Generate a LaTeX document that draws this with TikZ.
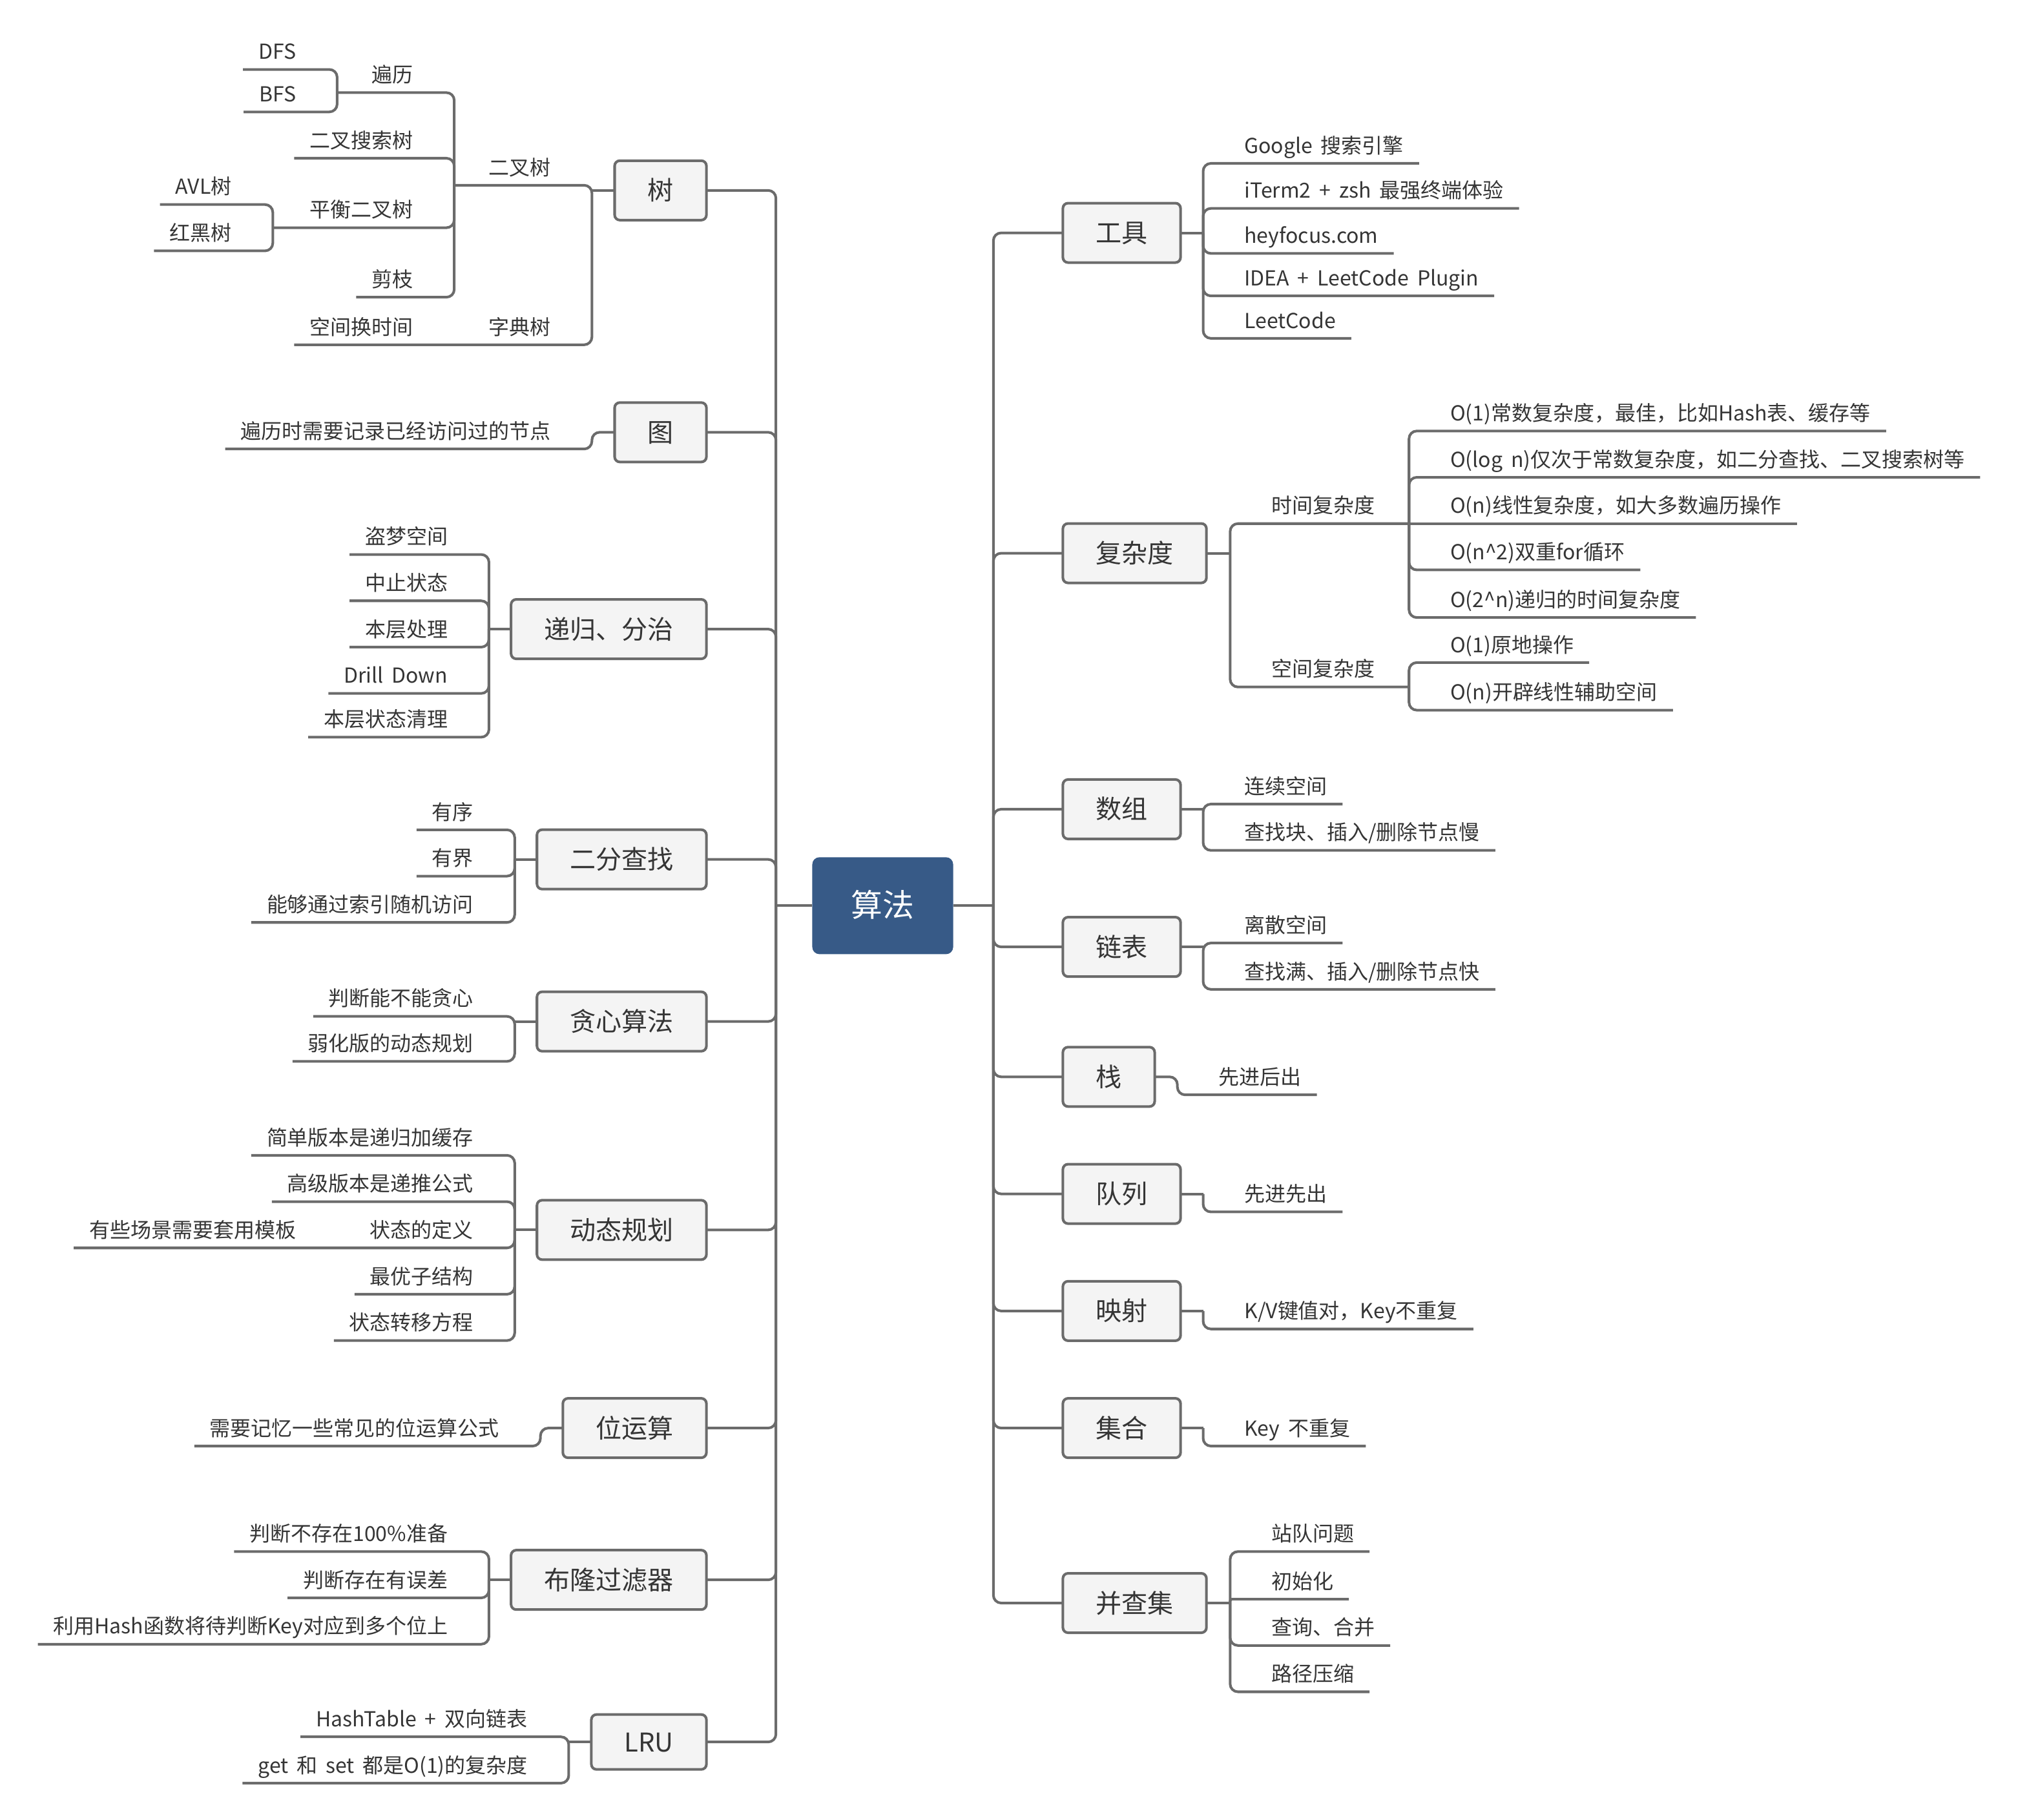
\documentclass[tikz,border=0pt]{standalone}
\usepackage{fontspec}
\setmainfont[WordSpace=1.8]{Noto Sans CJK SC}
\usepackage{tikz}
\usepackage{xcolor}
\definecolor{linegray}{HTML}{6B6B6B}
\definecolor{textgray}{HTML}{353535}
\definecolor{boxgray}{HTML}{F4F4F4}
\definecolor{rootblue}{HTML}{375A87}

\begin{document}
\begin{tikzpicture}[x=0.01992cm, y=-0.01992cm,
  link/.style={draw=linegray, line width=1.15pt, rounded corners=0.12cm},
  nearlink/.style={link, rounded corners=0.03cm},
  root/.style={fill=rootblue, rounded corners=0.11cm, text=white, font=\fontsize{13.9}{16}\selectfont, minimum width=2.18cm, minimum height=1.5cm, inner sep=0pt, text height=0.42cm, text depth=0.07cm},
  topic/.style={draw=linegray, line width=1.15pt, fill=boxgray, rounded corners=0.08cm, text=textgray, font=\fontsize{11.4}{13}\selectfont, minimum height=0.92cm, inner xsep=0.51cm, inner ysep=0pt, text height=0.35cm, text depth=0.05cm, outer sep=0pt},
  topicl/.style={topic, anchor=east},
  topicr/.style={topic, anchor=west},
  leaf/.style={text=textgray, font=\fontsize{9.1}{11}\selectfont, inner xsep=0.24cm, inner ysep=0.094cm, text height=0.256cm, text depth=0.064cm, outer sep=0pt},
  leafl/.style={leaf, anchor=south east},
  leafr/.style={leaf, anchor=south west}]
\path[use as bounding box] (0,0) rectangle (1568.27,1414.66);

\node[root] (suanfa) at (686,704) {算法};
\coordinate (lj) at (603,704);
\coordinate (rj) at (772,704);

\node[topicl] (shu) at (549,148) {树};
\node[topicl] (tu) at (549,336) {图};
\node[topicl] (digui) at (549,489) {递归、分治};
\node[topicl] (erfen) at (549,668) {二分查找};
\node[topicl] (tanxin) at (549,794) {贪心算法};
\node[topicl] (dongtai) at (549,956) {动态规划};
\node[topicl] (weiyun) at (549,1110) {位运算};
\node[topicl] (bulong) at (549,1228) {布隆过滤器};
\node[topicl, minimum height=0.85cm] (lru) at (549,1354) {LRU};

\node[topicr] (gongju) at (826,181) {工具};
\node[topicr] (fuza) at (826,430) {复杂度};
\node[topicr] (shuzu) at (826,629) {数组};
\node[topicr] (lianbiao) at (826,736) {链表};
\node[topicr] (zhan) at (826,837) {栈};
\node[topicr] (duilie) at (826,928) {队列};
\node[topicr] (yingshe) at (826,1019) {映射};
\node[topicr] (jihe) at (826,1110) {集合};
\node[topicr] (bingcha) at (826,1246) {并查集};

\coordinate (j-shu) at (460,148);
\coordinate (j-tu) at (460,336);
\coordinate (j-digui) at (380,489);
\coordinate (j-erfen) at (400,668);
\coordinate (j-tanxin) at (400,794);
\coordinate (j-dongtai) at (400,956);
\coordinate (j-weiyun) at (420,1110);
\coordinate (j-bulong) at (380,1228);
\coordinate (j-lru) at (442,1354);
\coordinate (j-gongju) at (935,181);
\coordinate (j-fuza) at (956,430);
\coordinate (j-shuzu) at (935,629);
\coordinate (j-lianbiao) at (935,736);
\coordinate (j-zhan) at (915,837);
\coordinate (j-duilie) at (935,928);
\coordinate (j-yingshe) at (935,1019);
\coordinate (j-jihe) at (935,1110);
\coordinate (j-bingcha) at (956,1246);

% left side leaves
\node[leafl] (ercha) at (440,144) {二叉树};
\node[leafl] (zidian) at (440,268) {字典树};
\node[leafl] (huanshi) at (333,268) {空间换时间};
\coordinate (j-ercha) at (353,144);
\node[leafl] (bianli) at (333,72) {遍历};
\node[leafl] (sousuo) at (333,123) {二叉搜索树};
\node[leafl] (pingheng) at (333,177) {平衡二叉树};
\node[leafl] (jianzhi) at (333,231) {剪枝};
\coordinate (j-bianli) at (262,72);
\coordinate (j-pingheng) at (212,177);
\node[leafl] (dfs) at (242,54) {DFS};
\node[leafl] (bfs) at (242,87) {BFS};
\node[leafl] (avl) at (192,159) {AVL树};
\node[leafl] (honghei) at (192,195) {红黑树};

\node[leafl] (jilu) at (440,349) {遍历时需要记录已经访问过的节点};

\node[leafl] (dmkj) at (360,431) {盗梦空间};
\node[leafl] (zzzt) at (360,467) {中止状态};
\node[leafl] (bccl) at (360,503) {本层处理};
\node[leafl] (drill) at (360,539) {Drill Down};
\node[leafl] (qingli) at (360,573) {本层状态清理};

\node[leafl] (youxu) at (380,645) {有序};
\node[leafl] (youjie) at (380,681) {有界};
\node[leafl] (suiji) at (380,717) {能够通过索引随机访问};

\node[leafl] (tx1) at (380,790) {判断能不能贪心};
\node[leafl] (tx2) at (380,825) {弱化版的动态规划};

\node[leafl] (jiandan) at (380,898) {简单版本是递归加缓存};
\node[leafl] (gaoji) at (380,934) {高级版本是递推公式};
\node[leafl] (dingyi) at (380,970) {状态的定义};
\node[leafl] (zuiyou) at (380,1006) {最优子结构};
\node[leafl] (zhuanyi) at (380,1042) {状态转移方程};
\node[leafl] (moban) at (242,970) {有些场景需要套用模板};

\node[leafl] (gongshi) at (400,1124) {需要记忆一些常见的位运算公式};

\node[leafl] (bucunzai) at (360,1206) {判断不存在100\%准备};
\node[leafl] (wucha) at (360,1242) {判断存在有误差};
\node[leafl] (duowei) at (360,1278) {利用Hash函数将待判断Key对应到多个位上};

\node[leafl] (hashtable) at (422,1350) {HashTable + 双向链表};
\node[leafl] (getset) at (422,1386) {get 和 set 都是O(1)的复杂度};

% right side leaves
\node[leafr] (google) at (955,127) {Google 搜索引擎};
\node[leafr] (iterm) at (955,162) {iTerm2 + zsh 最强终端体验};
\node[leafr] (heyfocus) at (955,197) {heyfocus.com};
\node[leafr] (idea) at (955,230) {IDEA + LeetCode Plugin};
\node[leafr] (leetcode) at (955,263) {LeetCode};

\node[leafr] (shijian) at (976,407) {时间复杂度};
\node[leafr] (kongjian) at (976,534) {空间复杂度};
\coordinate (j-shijian) at (1095,407);
\coordinate (j-kongjian) at (1095,534);
\node[leafr] (o1) at (1115,335) {O(1)常数复杂度，最佳，比如Hash表、缓存等};
\node[leafr] (ologn) at (1115,371) {O(log n)仅次于常数复杂度，如二分查找、二叉搜索树等};
\node[leafr] (on) at (1115,407) {O(n)线性复杂度，如大多数遍历操作};
\node[leafr] (on2) at (1115,443) {O(n\textasciicircum 2)双重for循环};
\node[leafr] (o2n) at (1115,480) {O(2\textasciicircum n)递归的时间复杂度};
\node[leafr] (o1s) at (1115,515) {O(1)原地操作};
\node[leafr] (ons) at (1115,552) {O(n)开辟线性辅助空间};

\node[leafr] (lianxu) at (955,625) {连续空间};
\node[leafr] (czman) at (955,661) {查找块、插入/删除节点慢};
\node[leafr] (lisan) at (955,733) {离散空间};
\node[leafr] (czkuai) at (955,769) {查找满、插入/删除节点快};

\node[leafr] (houchu) at (935,851) {先进后出};
\node[leafr] (xianchu) at (955,942) {先进先出};
\node[leafr] (kv) at (955,1033) {K/V键值对，Key不重复};
\node[leafr] (buchong) at (955,1124) {Key 不重复};

\node[leafr] (zhandui) at (976,1206) {站队问题};
\node[leafr] (chushi) at (976,1243) {初始化};
\node[leafr] (chaxun) at (976,1279) {查询、合并};
\node[leafr] (yasuo) at (976,1315) {路径压缩};

% trunks
\draw[link] (suanfa.west) -- (lj);
\draw[link] (suanfa.east) -- (rj);
\draw[link] (shu.east) -| (lru.east -| lj) -- (lru.east);
\foreach \b in {tu,digui,erfen,tanxin,dongtai,weiyun,bulong}
  \draw[link] (lj) |- (\b.east);
\draw[link] (gongju.west) -| (bingcha.west -| rj) -- (bingcha.west);
\foreach \b in {fuza,shuzu,lianbiao,zhan,duilie,yingshe,jihe}
  \draw[link] (rj) |- (\b.west);

\foreach \b in {shu,digui,erfen,tanxin,dongtai,bulong,lru}
  \draw[link] (\b.west) -- (j-\b);
\foreach \b in {gongju,fuza,shuzu,lianbiao,duilie,yingshe,jihe,bingcha}
  \draw[link] (\b.east) -- (j-\b);

% left branches
\draw[link] (j-ercha) -- (ercha.south east) -| (zidian.south east -| j-shu) -- (huanshi.south west);
\draw[link] (j-bianli) -- (bianli.south east) -| (jianzhi.south east -| j-ercha) -- (jianzhi.south west);
\draw[link] (j-ercha) |- (sousuo.south east) -- (sousuo.south west);
\draw[link] (j-ercha) |- (pingheng.south east) -- (j-pingheng);
\draw[link] (dfs.south west) -- (dfs.south east) -| (bfs.south east -| j-bianli) -- (bfs.south west);
\draw[link] (avl.south west) -- (avl.south east) -| (honghei.south east -| j-pingheng) -- (honghei.south west);

\draw[link] (tu.west) -- (j-tu) |- (jilu.south east) -- (jilu.south west);

\draw[link] (dmkj.south west) -- (dmkj.south east) -| (qingli.south east -| j-digui) -- (qingli.south west);
\foreach \c in {zzzt,bccl,drill}
  \draw[link] (j-digui) |- (\c.south east) -- (\c.south west);

\draw[link] (youxu.south west) -- (youxu.south east) -| (suiji.south east -| j-erfen) -- (suiji.south west);
\draw[link] (j-erfen) |- (youjie.south east) -- (youjie.south west);

\draw[link] (tx1.south west) -- (tx1.south east) -| (tx2.south east -| j-tanxin) -- (tx2.south west);

\draw[link] (jiandan.south west) -- (jiandan.south east) -| (zhuanyi.south east -| j-dongtai) -- (zhuanyi.south west);
\foreach \c in {gaoji,zuiyou}
  \draw[link] (j-dongtai) |- (\c.south east) -- (\c.south west);
\draw[link] (j-dongtai) |- (dingyi.south east) -- (moban.south west);

\draw[link] (weiyun.west) -- (j-weiyun) |- (gongshi.south east) -- (gongshi.south west);

\draw[link] (bucunzai.south west) -- (bucunzai.south east) -| (duowei.south east -| j-bulong) -- (duowei.south west);
\draw[link] (j-bulong) |- (wucha.south east) -- (wucha.south west);

\draw[link] (hashtable.south west) -- (hashtable.south east) -| (getset.south east -| j-lru) -- (getset.south west);

% right branches
\draw[link] (google.south east) -- (google.south west) -| (leetcode.south west -| j-gongju) -- (leetcode.south east);
\foreach \c in {iterm,heyfocus,idea}
  \draw[link] (j-gongju) |- (\c.south west) -- (\c.south east);

\draw[link] (j-shijian) -- (shijian.south west) -| (kongjian.south west -| j-fuza) -- (j-kongjian);
\draw[link] (o1.south east) -- (o1.south west) -| (o2n.south west -| j-shijian) -- (o2n.south east);
\foreach \c in {ologn,on2}
  \draw[link] (j-shijian) |- (\c.south west) -- (\c.south east);
\draw[link] (j-shijian) -- (on.south east);
\draw[link] (o1s.south east) -- (o1s.south west) -| (ons.south west -| j-kongjian) -- (ons.south east);

\draw[link] (lianxu.south east) -- (lianxu.south west) -| (czman.south west -| j-shuzu) -- (czman.south east);
\draw[link] (lisan.south east) -- (lisan.south west) -| (czkuai.south west -| j-lianbiao) -- (czkuai.south east);

\draw[link] (zhan.east) -- (j-zhan) |- (houchu.south west) -- (houchu.south east);
\draw[link] (j-duilie) |- (xianchu.south west) -- (xianchu.south east);
\draw[link] (j-yingshe) |- (kv.south west) -- (kv.south east);
\draw[link] (j-jihe) |- (buchong.south west) -- (buchong.south east);

\draw[link] (zhandui.south east) -- (zhandui.south west) -| (yasuo.south west -| j-bingcha) -- (yasuo.south east);
\draw[link] (j-bingcha) |- (chaxun.south west) -- (chaxun.south east);
\draw[nearlink] (j-bingcha) |- (chushi.south west) -- (chushi.south east);

\end{tikzpicture}
\end{document}
